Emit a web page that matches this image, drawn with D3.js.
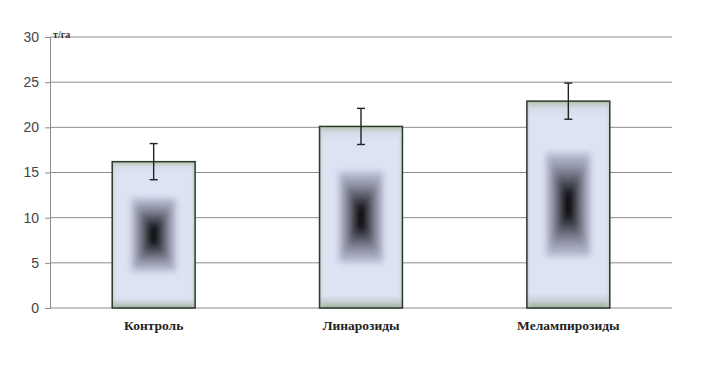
<!DOCTYPE html>
<html>
<head>
<meta charset="utf-8">
<script src="https://cdn.jsdelivr.net/npm/d3@7"></script>
<style>
  body { margin: 0; background: #fff; }
</style>
</head>
<body>
<div id="chart"></div>
<script>
// data
var categories = ["Контроль", "Линарозиды", "Мелампирозиды"];
var values = [16.2, 20.1, 22.9];
var errors = [2.0, 2.0, 2.0];
var yTicks = [0, 5, 10, 15, 20, 25, 30];
var unitLabel = "т/га";

var svgWidth = 716, svgHeight = 369;
var margin = { top: 37, right: 44, bottom: 61, left: 50 };
var chartWidth = svgWidth - margin.left - margin.right;
var chartHeight = svgHeight - margin.top - margin.bottom;

var svg = d3.select("#chart").append("svg")
  .attr("width", svgWidth)
  .attr("height", svgHeight);

var defs = svg.append("defs");

// light body with greenish top / bottom edge
var edge = defs.append("linearGradient")
  .attr("id", "edgeGrad").attr("x1", 0).attr("y1", 0).attr("x2", 0).attr("y2", 1);
[[0, "#b3c2ad"], [0.035, "#d5dcea"], [0.08, "#dde3f3"], [0.93, "#dde3f3"], [0.965, "#c6d0d4"], [1, "#9fb09a"]]
  .forEach(function(s) { edge.append("stop").attr("offset", s[0]).attr("stop-color", s[1]); });

var sideGrad = defs.append("linearGradient")
  .attr("id", "sideGrad").attr("x1", 0).attr("y1", 0).attr("x2", 1).attr("y2", 0);
[[0, "#a9b8a4", 0.6], [0.06, "#dde3f3", 0], [0.94, "#dde3f3", 0], [1, "#a9b8a4", 0.6]]
  .forEach(function(s) {
    sideGrad.append("stop").attr("offset", s[0]).attr("stop-color", s[1]).attr("stop-opacity", s[2]);
  });

defs.append("filter").attr("id", "soft")
  .attr("x", "-30%").attr("y", "-30%").attr("width", "160%").attr("height", "160%")
  .append("feGaussianBlur").attr("stdDeviation", 3);

var g = svg.append("g")
  .attr("transform", "translate(" + margin.left + "," + margin.top + ")");

var x = d3.scaleBand()
  .domain(categories)
  .range([0, chartWidth])
  .paddingInner(0.6)
  .paddingOuter(0.3);

var y = d3.scaleLinear()
  .domain([0, 30])
  .range([chartHeight, 0]);

// gridlines
g.selectAll(".grid")
  .data(yTicks)
  .enter().append("line")
  .attr("x1", 0).attr("x2", chartWidth)
  .attr("y1", function(d) { return y(d); })
  .attr("y2", function(d) { return y(d); })
  .attr("stroke", "#8c8c8c")
  .attr("stroke-width", 1);

// y axis
var yAxis = g.append("g")
  .call(d3.axisLeft(y).tickValues(yTicks).tickSize(5).tickPadding(6));
yAxis.select(".domain").attr("stroke", "#8c8c8c");
yAxis.selectAll(".tick line").attr("stroke", "#8c8c8c");
yAxis.selectAll("text")
  .attr("fill", "#444")
  .style("font-family", "'Liberation Sans', Arial, sans-serif")
  .style("font-size", "14px");

// unit label
g.append("text")
  .attr("x", 3).attr("y", 1)
  .attr("fill", "#333")
  .style("font-family", "'Liberation Serif', 'Times New Roman', serif")
  .style("font-size", "10px")
  .style("font-weight", "bold")
  .text(unitLabel);

// bars
var bars = g.selectAll(".bar")
  .data(values)
  .enter().append("g")
  .attr("class", "bar");

bars.append("rect")
  .attr("x", function(d, i) { return x(categories[i]); })
  .attr("y", function(d) { return y(d); })
  .attr("width", x.bandwidth())
  .attr("height", function(d) { return chartHeight - y(d); })
  .attr("fill", "url(#edgeGrad)");

bars.append("rect")
  .attr("x", function(d, i) { return x(categories[i]); })
  .attr("y", function(d) { return y(d); })
  .attr("width", x.bandwidth())
  .attr("height", function(d) { return chartHeight - y(d); })
  .attr("fill", "url(#sideGrad)");

// dark box-shaped centre shading
var steps = d3.range(0, 24);
var shade = d3.interpolateRgb("#b8bcd4", "#000000");
bars.each(function(d, i) {
  var bx = x(categories[i]), bw = x.bandwidth();
  var top = y(d), h = chartHeight - y(d);
  var cx = bx + bw / 2, cy = top + h / 2;
  var grp = d3.select(this).append("g").attr("filter", "url(#soft)");
  steps.forEach(function(k) {
    var t = k / (steps.length - 1);
    var w = bw * 0.54 * (1 - t * 0.9);
    var hh = h * 0.5 * (1 - t * 0.84);
    grp.append("rect")
      .attr("x", cx - w / 2).attr("y", cy - hh / 2)
      .attr("width", w).attr("height", hh)
      .attr("fill", shade(Math.pow(t, 1.3)));
  });
});

bars.append("rect")
  .attr("x", function(d, i) { return x(categories[i]); })
  .attr("y", function(d) { return y(d); })
  .attr("width", x.bandwidth())
  .attr("height", function(d) { return chartHeight - y(d); })
  .attr("fill", "none")
  .attr("stroke", "#2b3a2b")
  .attr("stroke-width", 1.5);

// error bars
var err = g.selectAll(".err")
  .data(values)
  .enter().append("g")
  .attr("stroke", "#222")
  .attr("stroke-width", 1.4);

err.append("line")
  .attr("x1", function(d, i) { return x(categories[i]) + x.bandwidth() / 2; })
  .attr("x2", function(d, i) { return x(categories[i]) + x.bandwidth() / 2; })
  .attr("y1", function(d, i) { return y(d + errors[i]); })
  .attr("y2", function(d, i) { return y(d - errors[i]); });

[1, -1].forEach(function(sign) {
  err.append("line")
    .attr("x1", function(d, i) { return x(categories[i]) + x.bandwidth() / 2 - 4; })
    .attr("x2", function(d, i) { return x(categories[i]) + x.bandwidth() / 2 + 4; })
    .attr("y1", function(d, i) { return y(d + sign * errors[i]); })
    .attr("y2", function(d, i) { return y(d + sign * errors[i]); });
});

// category labels
g.selectAll(".cat")
  .data(categories)
  .enter().append("text")
  .attr("x", function(d) { return x(d) + x.bandwidth() / 2; })
  .attr("y", chartHeight + 22)
  .attr("text-anchor", "middle")
  .attr("fill", "#222")
  .style("font-family", "'Liberation Serif', 'Times New Roman', serif")
  .style("font-size", "13.5px")
  .style("font-weight", "bold")
  .text(function(d) { return d; });
</script>
</body>
</html>
